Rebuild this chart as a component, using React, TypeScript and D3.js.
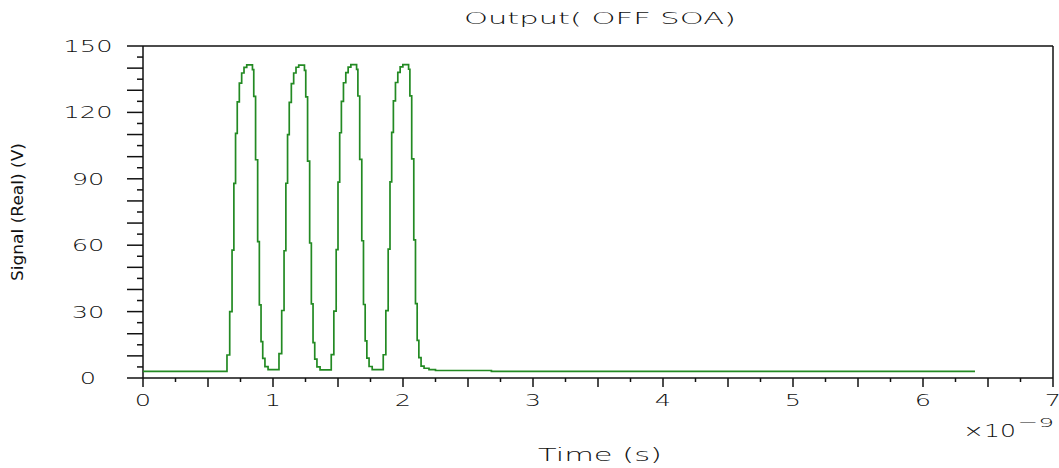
import React from 'react';
import * as d3 from 'd3';

// readings: [time (ns), signal (V)], sample-and-hold steps
const leadIn: [number, number][] = [
    [0.0, 3.0],
];
const pulse1: [number, number][] = [
    [0.646, 10.4], [0.667, 30.0], [0.685, 57.8], [0.699, 87.9], [0.712, 110.5],
    [0.725, 124.8], [0.741, 133.2], [0.759, 137.8], [0.777, 140.3], [0.798, 141.5],
    [0.842, 139.3], [0.852, 127.2], [0.866, 98.6], [0.882, 61.6], [0.895, 33.0],
    [0.908, 16.4], [0.921, 8.9], [0.938, 5.1], [0.962, 3.8],
];
const pulse2: [number, number][] = [
    [1.046, 11.0], [1.067, 30.5], [1.085, 57.5], [1.099, 88.0], [1.112, 110.0],
    [1.125, 124.5], [1.141, 133.0], [1.159, 137.8], [1.177, 140.4], [1.198, 141.4],
    [1.242, 139.0], [1.252, 127.0], [1.266, 98.0], [1.282, 61.0], [1.295, 33.5],
    [1.308, 16.0], [1.321, 8.5], [1.338, 5.0], [1.362, 3.7],
];
const pulse3: [number, number][] = [
    [1.448, 10.6], [1.468, 30.2], [1.486, 58.0], [1.500, 88.5], [1.513, 110.8],
    [1.526, 125.0], [1.542, 133.4], [1.560, 138.0], [1.578, 140.5], [1.599, 141.6],
    [1.643, 139.4], [1.653, 127.4], [1.667, 98.8], [1.683, 62.0], [1.696, 33.2],
    [1.709, 16.8], [1.722, 9.0], [1.739, 5.2], [1.763, 3.8],
];
const pulse4: [number, number][] = [
    [1.848, 10.5], [1.868, 30.4], [1.886, 58.2], [1.900, 88.6], [1.913, 111.0],
    [1.926, 125.2], [1.942, 133.5], [1.960, 138.1], [1.978, 140.6], [1.999, 141.6],
    [2.043, 139.5], [2.053, 127.5], [2.067, 99.0], [2.083, 62.4], [2.096, 33.6],
    [2.109, 17.0], [2.122, 9.2], [2.139, 5.4],
];
const tail: [number, number][] = [
    [2.162, 4.4], [2.200, 3.8], [2.250, 3.4], [2.680, 3.0], [6.400, 3.0],
];

const yTickValues = d3.range(0, 151, 5);
const yLabelValues = [0, 30, 60, 90, 120, 150];
const xTickValues = d3.range(0, 7.001, 0.25);
const xLabelValues = [0, 1, 2, 3, 4, 5, 6, 7];

const title = 'Output( OFF SOA)';
const xTitle = 'Time (s)';
const yTitle = 'Signal (Real) (V)';

const width = 1059;
const height = 468;
const margin = { top: 46, right: 6, bottom: 90, left: 143 };

const font = '"DejaVu Sans", Verdana, sans-serif';
const ink = '#111';

const App = () => {
    const x = d3.scaleLinear().domain([0, 7]).range([margin.left, width - margin.right]);
    const y = d3.scaleLinear().domain([0, 150]).range([height - margin.bottom, margin.top]);

    const data = [...leadIn, ...pulse1, ...pulse2, ...pulse3, ...pulse4, ...tail];
    const line = d3.line<[number, number]>()
        .x(d => x(d[0]))
        .y(d => y(d[1]))
        .curve(d3.curveStepAfter);

    const x0 = x(0), x1 = x(7), y0 = y(0), y1 = y(150);

    return (
        <svg width={width} height={height}
            style={{ position: 'absolute', left: 0, top: 0, background: '#fff', display: 'block' }}>
            {/* title */}
            <text x={(x0 + x1) / 2 + 2} y={24} textAnchor="middle" fontFamily={font} fontSize={16}
                fontWeight={300} fill={ink} textLength={272} lengthAdjust="spacingAndGlyphs">{title}</text>

            {/* frame */}
            <g stroke={ink} strokeWidth={1.5} fill="none">
                <line x1={x0} x2={x1} y1={y1} y2={y1} />
                <line x1={x1} x2={x1} y1={y1} y2={y0} />
                <line x1={x0} x2={x1} y1={y0} y2={y0} />
                <line x1={x0} x2={x0} y1={y1} y2={y0} />
            </g>

            {/* y ticks */}
            <g stroke={ink} strokeWidth={1.5}>
                {yTickValues.map(v => (
                    <line key={v} x1={x0 - (v % 10 === 0 ? 16 : 6)} x2={x0} y1={y(v)} y2={y(v)} />
                ))}
            </g>
            {yLabelValues.map(v => (
                <text key={v} transform={`translate(88,${y(v) + 6}) scale(1.6,1)`} textAnchor="middle"
                    fontFamily={font} fontSize={16} fontWeight={300} fill={ink}>{v}</text>
            ))}

            {/* x ticks */}
            <g stroke={ink} strokeWidth={1.5}>
                {xTickValues.map(v => (
                    <line key={v} x1={x(v)} x2={x(v)} y1={y0}
                        y2={y0 + (Math.abs(v * 2 - Math.round(v * 2)) < 1e-6 ? 9 : 4)} />
                ))}
            </g>
            {xLabelValues.map(v => (
                <text key={v} transform={`translate(${x(v)},${y0 + 28}) scale(1.6,1)`} textAnchor="middle"
                    fontFamily={font} fontSize={16} fontWeight={300} fill={ink}>{v}</text>
            ))}

            {/* exponent */}
            <text x={963} y={437} fontFamily={font} fontSize={17} fontWeight={300} fill={ink}
                textLength={53} lengthAdjust="spacingAndGlyphs">×10</text>
            <text x={1018} y={427} fontFamily={font} fontSize={13} fontWeight={300} fill={ink}
                textLength={36} lengthAdjust="spacingAndGlyphs">−9</text>

            {/* axis titles */}
            <text x={(x0 + x1) / 2 + 2} y={461} textAnchor="middle" fontFamily={font} fontSize={17}
                fontWeight={300} fill={ink} textLength={124} lengthAdjust="spacingAndGlyphs">{xTitle}</text>
            <text transform={`translate(23,${(y0 + y1) / 2}) rotate(-90)`} textAnchor="middle"
                fontFamily={font} fontSize={16} fill={ink}
                textLength={138} lengthAdjust="spacingAndGlyphs">{yTitle}</text>

            {/* trace */}
            <path d={line(data) ?? ''} fill="none" stroke="#238a23" strokeWidth={1.7} />
        </svg>
    );
};

export default App;
